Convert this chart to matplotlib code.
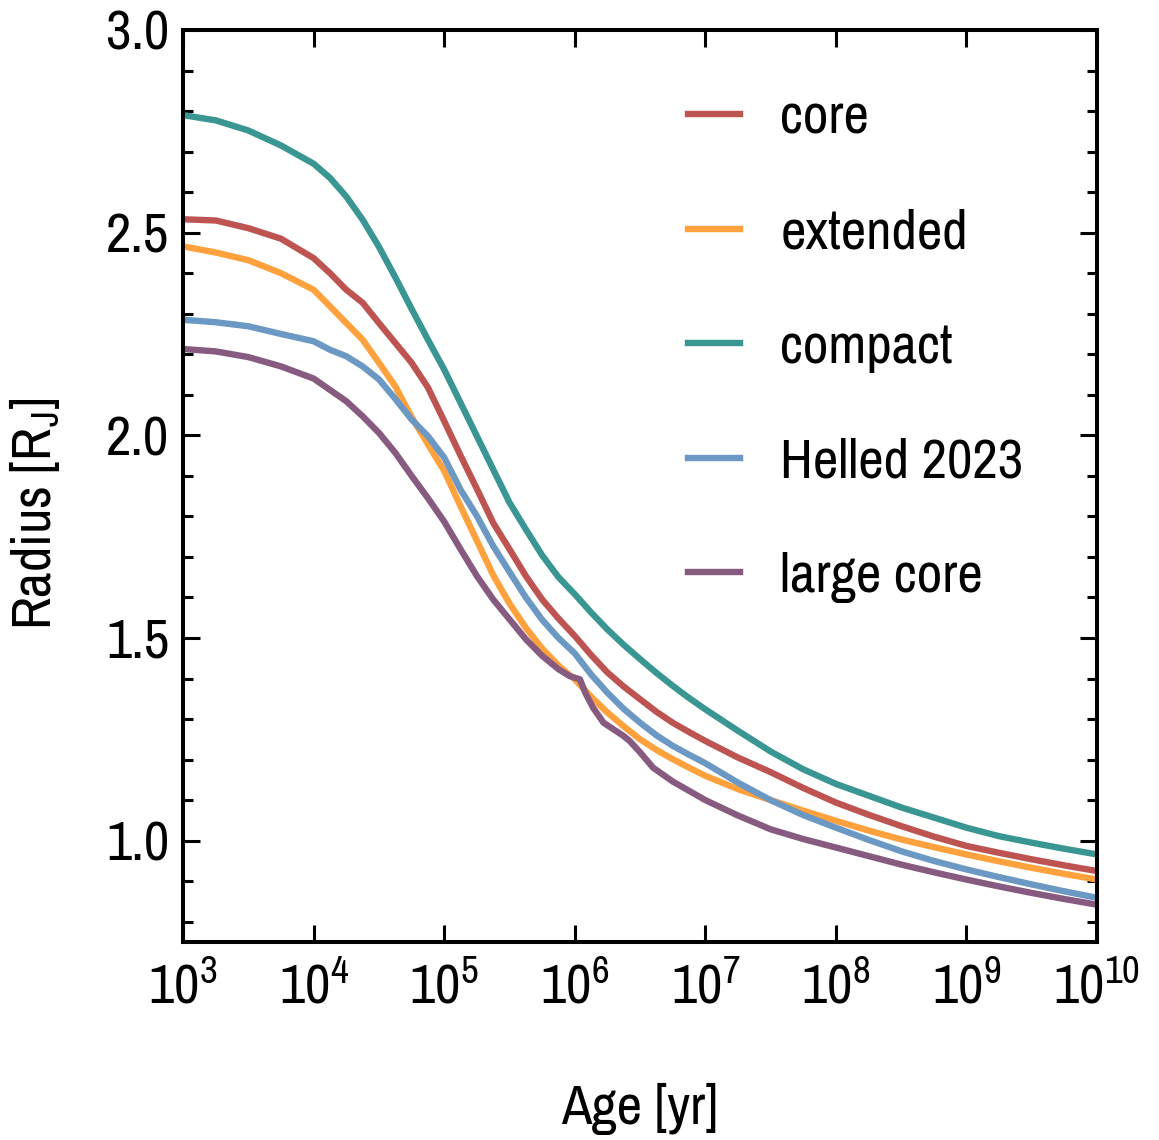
import numpy as np
import matplotlib
matplotlib.use("Agg")
import matplotlib.pyplot as plt
from matplotlib import font_manager as fm
from matplotlib.ticker import MultipleLocator, LogLocator, NullLocator, FormatStrFormatter

# log10(age / yr) and radius [R_J]
log_age = [3.0, 3.25, 3.5, 3.75, 4.0, 4.125, 4.25, 4.375, 4.5, 4.625, 4.75, 4.875,
           5.0, 5.125, 5.25, 5.375, 5.5, 5.625, 5.75, 5.875, 6.0, 6.125, 6.25, 6.375,
           6.5, 6.625, 6.75, 6.875, 7.0, 7.25, 7.5, 7.75, 8.0, 8.25, 8.5, 8.75,
           9.0, 9.25, 9.5, 9.75, 10.0]

r_core = [2.533, 2.530, 2.511, 2.485, 2.437, 2.400, 2.359, 2.327, 2.277, 2.228, 2.179, 2.118,
          2.035, 1.950, 1.868, 1.784, 1.719, 1.653, 1.595, 1.548, 1.505, 1.458, 1.415, 1.380,
          1.349, 1.318, 1.291, 1.268, 1.246, 1.205, 1.169, 1.130, 1.094, 1.064, 1.036, 1.010,
          0.987, 0.970, 0.954, 0.939, 0.925]
r_extended = [2.466, 2.451, 2.432, 2.400, 2.359, 2.318, 2.277, 2.236, 2.179, 2.121, 2.045, 1.978,
              1.912, 1.825, 1.740, 1.655, 1.585, 1.525, 1.474, 1.432, 1.398, 1.355, 1.316, 1.282,
              1.250, 1.224, 1.201, 1.180, 1.160, 1.127, 1.100, 1.074, 1.049, 1.025, 1.003, 0.984,
              0.966, 0.949, 0.933, 0.918, 0.904]
r_compact = [2.790, 2.777, 2.752, 2.715, 2.670, 2.635, 2.589, 2.532, 2.465, 2.390, 2.312, 2.236,
             2.162, 2.080, 1.998, 1.916, 1.834, 1.768, 1.704, 1.650, 1.608, 1.563, 1.521, 1.483,
             1.448, 1.414, 1.382, 1.352, 1.324, 1.271, 1.220, 1.176, 1.140, 1.111, 1.082, 1.057,
             1.032, 1.011, 0.995, 0.980, 0.966]
r_helled = [2.285, 2.279, 2.269, 2.250, 2.232, 2.211, 2.195, 2.170, 2.138, 2.090, 2.039, 1.998,
            1.945, 1.866, 1.801, 1.727, 1.663, 1.600, 1.545, 1.500, 1.462, 1.410, 1.365, 1.325,
            1.291, 1.260, 1.234, 1.212, 1.191, 1.143, 1.100, 1.063, 1.032, 1.002, 0.974, 0.950,
            0.929, 0.910, 0.892, 0.875, 0.859]

log_age_large = [3.0, 3.25, 3.5, 3.75, 4.0, 4.125, 4.25, 4.375, 4.5, 4.625, 4.75, 4.875,
                 5.0, 5.125, 5.25, 5.375, 5.5, 5.625, 5.75, 5.875, 5.96, 6.04, 6.08, 6.14,
                 6.22, 6.37, 6.42, 6.5, 6.6, 6.75, 7.0, 7.25, 7.5, 7.75, 8.0, 8.25,
                 8.5, 8.75, 9.0, 9.25, 9.5, 9.75, 10.0]
r_large_core = [2.213, 2.207, 2.193, 2.170, 2.140, 2.112, 2.084, 2.047, 2.006, 1.957, 1.900, 1.845,
                1.787, 1.719, 1.653, 1.595, 1.546, 1.497, 1.456, 1.423, 1.406, 1.398, 1.365, 1.328,
                1.291, 1.259, 1.246, 1.218, 1.180, 1.146, 1.100, 1.062, 1.028, 1.004, 0.983, 0.962,
                0.941, 0.922, 0.904, 0.887, 0.871, 0.856, 0.842]

labels = ["core", "extended", "compact", "Helled 2023", "large core"]
colors = ["#BD5452", "#FFA13D", "#3A9692", "#6B99C3", "#875B80"]

# pick a narrow font, regular weight if possible
def narrow(f):
    return ("Condensed" in f.name or "Narrow" in f.name
            or f.stretch in ("condensed", "semi-condensed"))

fonts = [f for f in fm.fontManager.ttflist if narrow(f) and f.style == "normal"]
regular = [f for f in fonts if f.weight in (400, "normal", "regular", "book")]
light = [f for f in fonts if f.weight in (300, "light")]
family, stretch, weight = "DejaVu Sans", "normal", "normal"
if regular:
    regular.sort(key=lambda f: (0 if f.name.startswith("Noto Sans") else 1, f.name))
    family, stretch = regular[0].name, regular[0].stretch
elif light:
    family, stretch, weight = light[0].name, light[0].stretch, "light"

plt.rcParams["font.family"] = [family, "DejaVu Sans"]
plt.rcParams["font.stretch"] = stretch
plt.rcParams["font.weight"] = weight
plt.rcParams["mathtext.fontset"] = "custom"
plt.rcParams["mathtext.rm"] = f"{family}:{weight}"
plt.rcParams["mathtext.it"] = f"{family}:{weight}"
plt.rcParams["mathtext.default"] = "regular"

fig = plt.figure(figsize=(11.59, 11.40), dpi=100)
ax = fig.add_axes([0.158, 0.1737, 0.7885, 0.8])

ages = 10 ** np.array(log_age)
ax.plot(ages, r_core, color=colors[0], lw=4.6, label=labels[0])
ax.plot(ages, r_extended, color=colors[1], lw=4.6, label=labels[1])
ax.plot(ages, r_compact, color=colors[2], lw=4.6, label=labels[2])
ax.plot(ages, r_helled, color=colors[3], lw=4.6, label=labels[3])
ax.plot(10 ** np.array(log_age_large), r_large_core, color=colors[4], lw=4.6, label=labels[4])

ax.set_xscale("log")
ax.set_xlim(1e3, 1e10)
ax.set_ylim(0.75, 3.0)
ax.xaxis.set_major_locator(LogLocator(base=10, numticks=20))
ax.xaxis.set_minor_locator(NullLocator())
ax.yaxis.set_major_locator(MultipleLocator(0.5))
ax.yaxis.set_minor_locator(MultipleLocator(0.1))
ax.yaxis.set_major_formatter(FormatStrFormatter("%.1f"))

for s in ax.spines.values():
    s.set_linewidth(2.9)
ax.tick_params(which="both", direction="in", top=True, right=True, width=2.2,
               labelsize=40, pad=10)
ax.tick_params(which="major", length=12)
ax.tick_params(which="minor", length=7)
ax.tick_params(axis="x", pad=14)

ax.set_xlabel("Age [yr]", fontsize=40)
ax.set_ylabel("Radius [R$_{\\rm J}$]", fontsize=40)
ax.xaxis.set_label_coords(0.5, -0.155)
ax.yaxis.set_label_coords(-0.132, 0.47)

ax.legend(loc="upper left", bbox_to_anchor=(0.552, 0.93), frameon=False,
          fontsize=40, handlelength=0.95, handletextpad=0.72, labelspacing=1.16,
          borderpad=0, borderaxespad=0)

plt.savefig("out.png", dpi=100)
plt.close()
